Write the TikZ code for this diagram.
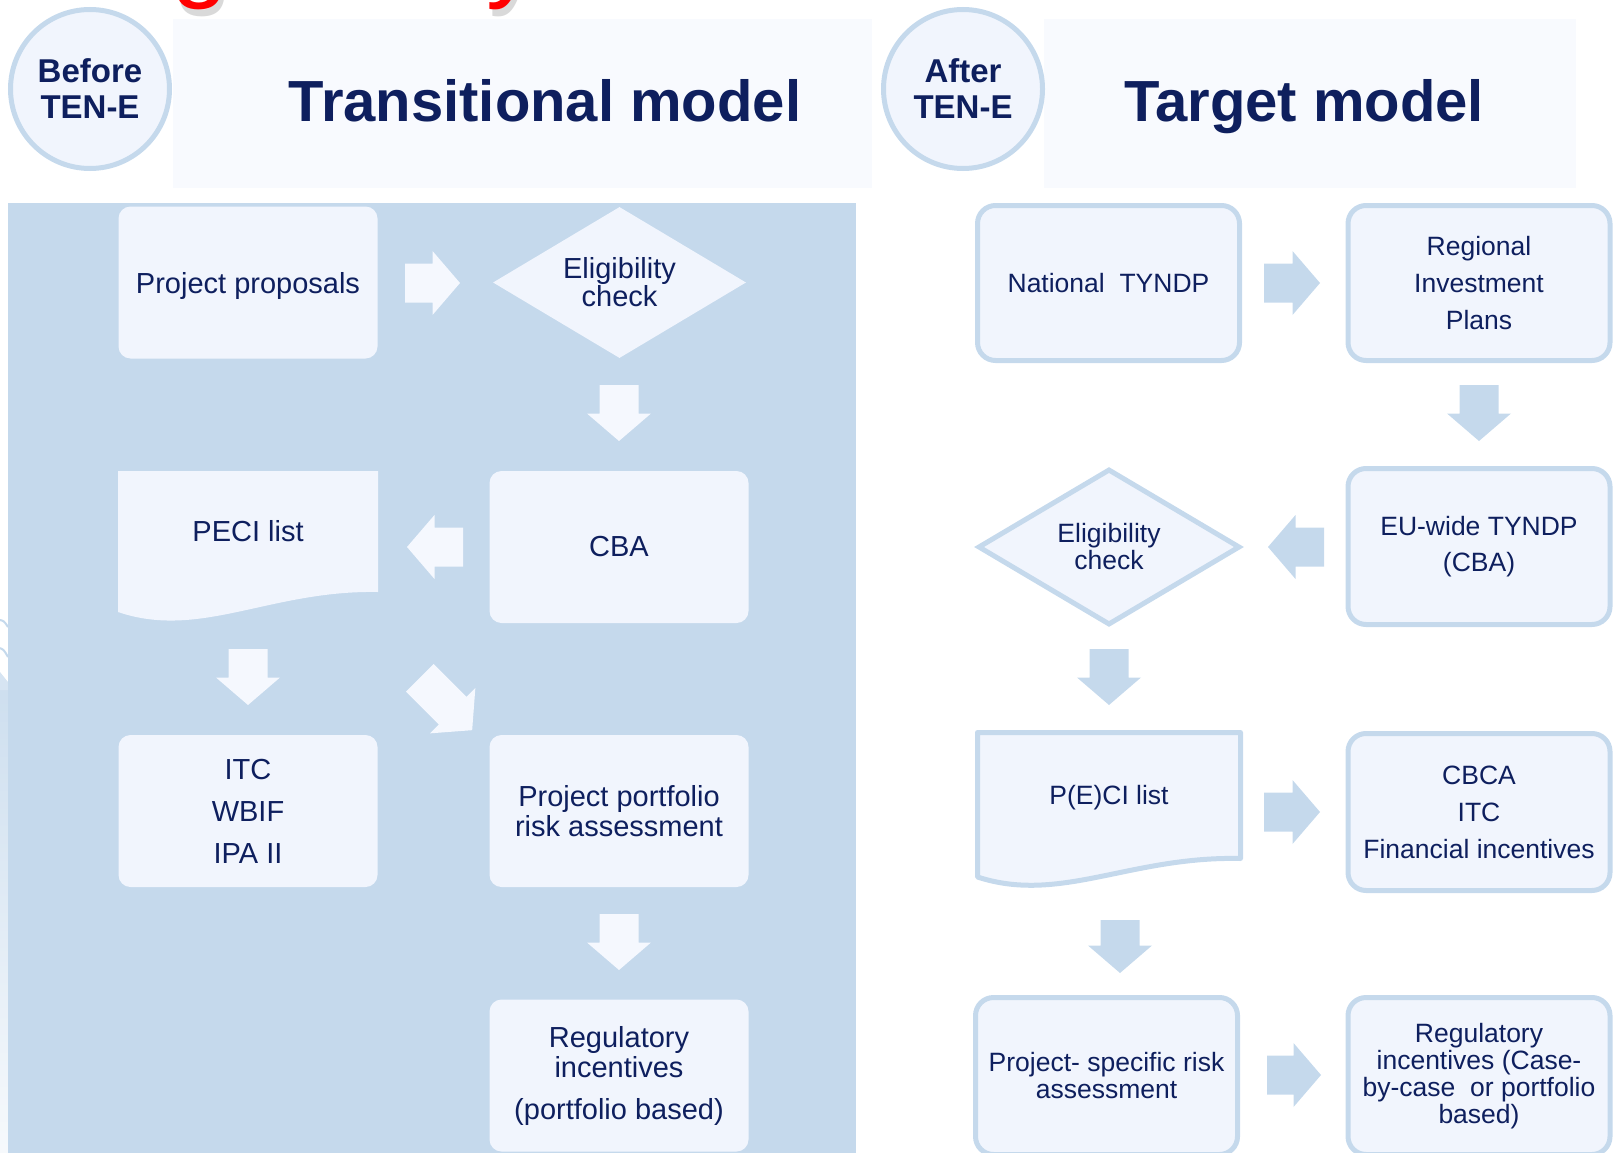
\documentclass[tikz,border=0pt]{standalone}
\usepackage{fontspec}
\setmainfont{Liberation Sans}
\usetikzlibrary{shapes.geometric}
\definecolor{panelblue}{HTML}{C5D9EC}
\definecolor{nodefill}{HTML}{F1F5FD}
\definecolor{titlefill}{HTML}{F8FAFE}
\definecolor{arrowwhite}{HTML}{F5F8FE}
\definecolor{navy}{HTML}{0E1F5E}
\definecolor{titlered}{HTML}{FF0000}
\begin{document}
\begin{tikzpicture}[x=1pt,y=-1pt,
 lbox/.style={rectangle, rounded corners=12pt, fill=nodefill, minimum width=259pt, minimum height=152pt, inner sep=0pt, text=navy, align=center, font=\fontsize{29}{30}\selectfont},
 rbox/.style={rectangle, rounded corners=18pt, fill=nodefill, draw=panelblue, line width=5pt, minimum width=262pt, minimum height=155pt, inner sep=0pt, text=navy, align=center, font=\fontsize{26.5}{27}\selectfont},
 ldiam/.style={diamond, fill=nodefill, minimum width=253pt, minimum height=151pt, inner sep=0pt, aspect=1.67, text=navy, align=center, font=\fontsize{29}{28}\selectfont},
 rdiam/.style={diamond, fill=nodefill, draw=panelblue, line width=5pt, minimum width=262pt, minimum height=156pt, inner sep=0pt, aspect=1.67, text=navy, align=center, font=\fontsize{26.5}{27}\selectfont},
 ldoc/.style={fill=nodefill},
 rdoc/.style={fill=nodefill, draw=panelblue, line width=5pt, line join=round},
 lplain/.style={text=navy, align=center, font=\fontsize{29}{30}\selectfont, inner sep=0pt},
 rplain/.style={text=navy, align=center, font=\fontsize{26.5}{27}\selectfont, inner sep=0pt},
 circ/.style={circle, fill=nodefill, draw=panelblue, line width=5pt, minimum size=159pt, inner sep=0pt, text=navy, align=center, font=\bfseries\fontsize{33}{36}\selectfont},
 titlebox/.style={rectangle, fill=titlefill, inner sep=0pt},
 titletext/.style={text=navy, font=\bfseries\fontsize{58}{60}\selectfont, inner sep=0pt, anchor=base},
 larrow/.style={fill=arrowwhite},
 rarrow/.style={fill=panelblue},
 pics/barrow/.style={code={\fill[pic actions] (-#1/2,-19.5) -- (#1/2-27.5,-19.5) -- (#1/2-27.5,-32) -- (#1/2,0) -- (#1/2-27.5,32) -- (#1/2-27.5,19.5) -- (-#1/2,19.5) -- cycle;}}
]
\useasboundingbox (0,0) rectangle (1614,1153);
\clip (0,0) rectangle (1614,1153);

% clipped page title
\node[anchor=base west, inner sep=0pt, text=black!15, font=\fontsize{103}{110}\selectfont] (titleshadow) at (43,-4) {Regulatory incentives for PECIs};
\node[anchor=base west, inner sep=0pt, text=titlered, font=\fontsize{103}{110}\selectfont] (pagetitle) at (40,-11) {Regulatory incentives for PECIs};

% left margin decoration
\shade[top color=panelblue!85, bottom color=panelblue!15] (0,690) rectangle (8,1153);
\draw[panelblue, line width=2pt] (0,620) .. controls (4,621) .. (8,627);
\draw[panelblue, line width=2pt] (0,648) .. controls (4,650) .. (8,657);
\fill[panelblue!70] (0,672) -- (8,682) -- (8,690) -- (0,690) -- cycle;

% headers
\node[titlebox, minimum width=699pt, minimum height=169pt] (tboxl) at (522.5,103.5) {};
\node[titletext] (ttl) at (545,122) {Transitional model};
\node[titlebox, minimum width=532pt, minimum height=169pt] (tboxr) at (1310,103.5) {};
\node[titletext] (ttr) at (1304,122) {Target model};
\node[circ] (before) at (90,89) {Before\\TEN-E};
\node[circ] (after) at (963,89) {After\\TEN-E};

% left panel
\fill[panelblue] (8,203) rectangle (856,1153);

\node[lbox, text depth=0pt] (pp) at (248,282.5) {Project proposals};
\node[ldiam] (elig) at (619.5,282.5) {Eligibility\\check};
\node[lbox] (cba) at (619,547) {CBA};
\path[ldoc] (118,471) -- (378,471) -- (378,592) .. controls (270,590) and (200,640) .. (118,612) -- cycle;
\node[lplain] (peci) at (248,531) {PECI list};
\node[lbox] (itc) at (248,811) {ITC\\[12pt]WBIF\\[12pt]IPA II};
\node[lbox] (ppra) at (619,811) {Project portfolio\\risk assessment};
\node[lbox] (reg) at (619,1075.5) {Regulatory\\incentives\\[12pt](portfolio based)};

\pic[larrow] at (432.5,283) {barrow=55};
\pic[larrow, rotate=-90] at (619,413) {barrow=56};
\pic[larrow, rotate=180] at (435,547) {barrow=56};
\pic[larrow, rotate=-90] at (248,677) {barrow=56};
\pic[larrow, rotate=-45] at (446,704) {barrow=74};
\pic[larrow, rotate=-90] at (619,942) {barrow=56};

% right side
\node[rbox] (ntyndp) at (1108.5,283) {National~ TYNDP};
\node[rbox] (rip) at (1479,283) {Regional\\[10pt]Investment\\[10pt]Plans};
\node[rbox, minimum height=156pt] (euw) at (1479,546.5) {EU-wide TYNDP\\[9pt](CBA)};
\node[rdiam] (elig2) at (1109,547) {Eligibility\\check};
\path[rdoc] (977.5,732.5) -- (1240.5,732.5) -- (1240.5,858.5) .. controls (1130,856) and (1060,904) .. (977.5,877) -- cycle;
\node[rplain] (peci2) at (1109,798) {P(E)CI list};
\node[rbox, minimum height=157pt] (cbca) at (1479,812) {CBCA\\[10pt]ITC\\[10pt]Financial incentives};
\node[rbox, minimum height=157pt] (psra) at (1106.5,1076) {Project- specific risk\\assessment};
\node[rbox, minimum height=157pt] (reg2) at (1479,1076) {Regulatory\\incentives (Case-\\by-case~ or portfolio\\based)};

\pic[rarrow] at (1292,283) {barrow=56};
\pic[rarrow, rotate=-90] at (1479,413) {barrow=56};
\pic[rarrow, rotate=180] at (1296,547) {barrow=56};
\pic[rarrow, rotate=-90] at (1109,677) {barrow=56};
\pic[rarrow] at (1292,812) {barrow=56};
\pic[rarrow, rotate=-90] at (1120,946.5) {barrow=53};
\pic[rarrow] at (1294,1075) {barrow=54};
\end{tikzpicture}
\end{document}
